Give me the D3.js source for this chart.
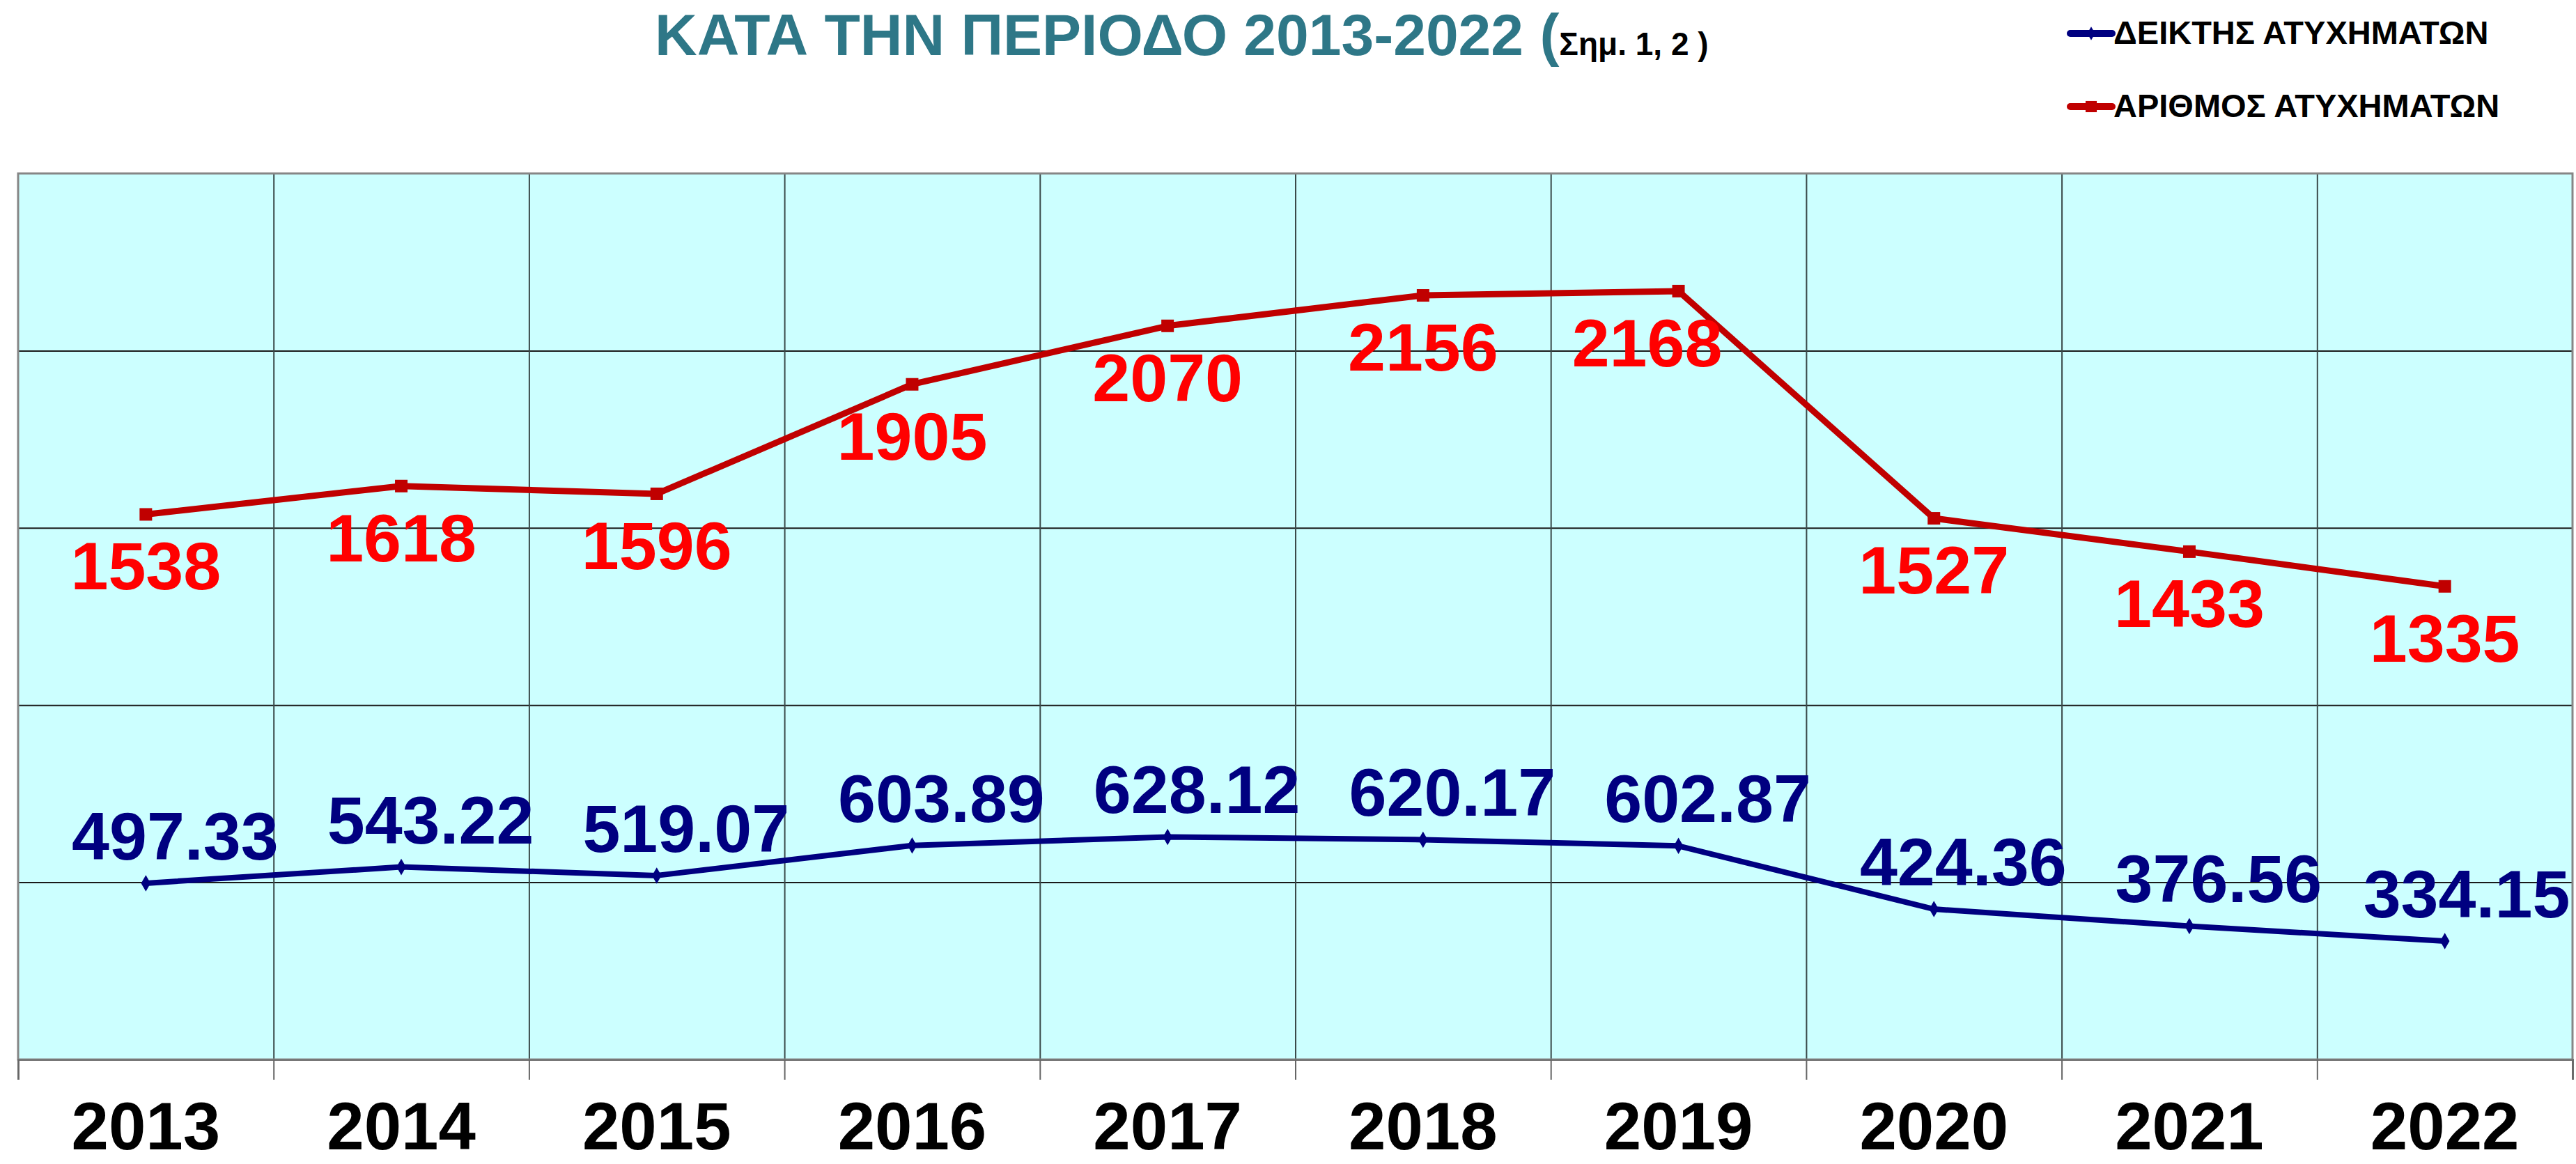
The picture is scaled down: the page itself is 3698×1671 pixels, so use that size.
<!DOCTYPE html>
<html>
<head>
<meta charset="utf-8">
<script src="https://cdn.jsdelivr.net/npm/d3@7"></script>
<style>
  body { margin: 0; background: #fff; }
  text { font-family: "Liberation Sans", Arial, sans-serif; font-weight: bold; }
</style>
</head>
<body>
<svg id="chart" width="3698" height="1671"></svg>
<script>
// data
const years = ["2013", "2014", "2015", "2016", "2017", "2018", "2019", "2020", "2021", "2022"];
const accidentIndex = [497.33, 543.22, 519.07, 603.89, 628.12, 620.17, 602.87, 424.36, 376.56, 334.15];
const accidentCount = [1538, 1618, 1596, 1905, 2070, 2156, 2168, 1527, 1433, 1335];
const gridValues = [500, 1000, 1500, 2000];
const legendNames = ["ΔΕΙΚΤΗΣ ΑΤΥΧΗΜΑΤΩΝ", "ΑΡΙΘΜΟΣ ΑΤΥΧΗΜΑΤΩΝ"];

const W = 3698, H = 1671;
const plot = { left: 26, right: 3693, top: 249, bottom: 1521 };

const svg = d3.select("#chart");

const x = d3.scaleBand().domain(years).range([plot.left, plot.right]).padding(0);
const xEdge = d3.scaleLinear().domain([0, years.length]).range([plot.left, plot.right]);
const y = d3.scaleLinear().domain([0, 2500]).range([plot.bottom, plot.top]);
const cx = (i) => x(years[i]) + x.bandwidth() / 2;

// plot background
svg.append("rect")
  .attr("x", plot.left).attr("y", plot.top)
  .attr("width", plot.right - plot.left).attr("height", plot.bottom - plot.top)
  .attr("fill", "#CCFFFF");

// horizontal grid
svg.append("g")
  .attr("transform", `translate(${plot.left},0)`)
  .call(d3.axisLeft(y).tickValues(gridValues).tickSize(-(plot.right - plot.left)).tickFormat(""))
  .call(g => g.select(".domain").remove())
  .call(g => g.selectAll("line").attr("stroke", "#1a1a1a").attr("stroke-width", 2));

// vertical grid at category edges
svg.append("g")
  .attr("transform", `translate(0,${plot.bottom})`)
  .call(d3.axisTop(xEdge).tickValues(d3.range(1, years.length)).tickSize(plot.bottom - plot.top).tickFormat(""))
  .call(g => g.select(".domain").remove())
  .call(g => g.selectAll("line").attr("stroke", "#3a4a4a").attr("stroke-width", 2));

// frame
svg.append("rect")
  .attr("x", plot.left).attr("y", plot.top)
  .attr("width", plot.right - plot.left).attr("height", plot.bottom - plot.top)
  .attr("fill", "none").attr("stroke", "#868686").attr("stroke-width", 3);

// bottom axis ticks
svg.append("g")
  .attr("transform", `translate(0,${plot.bottom})`)
  .call(d3.axisBottom(xEdge).tickValues(d3.range(0, years.length + 1)).tickSize(29).tickFormat(""))
  .call(g => g.select(".domain").attr("stroke", "#777").attr("stroke-width", 3))
  .call(g => g.selectAll("line").attr("stroke", "#666").attr("stroke-width", 2));

// year labels
svg.append("g")
  .attr("transform", `translate(0,${plot.bottom})`)
  .call(d3.axisBottom(x).tickSize(0))
  .call(g => g.select(".domain").remove())
  .call(g => g.selectAll("text")
    .attr("y", 129).attr("dy", null)
    .attr("font-family", "Liberation Sans, Arial, sans-serif")
    .attr("font-weight", "bold")
    .attr("font-size", 96).attr("fill", "#000"));

const line = d3.line().x((d, i) => cx(i)).y(d => y(d));

// red series: number of accidents
svg.append("path").datum(accidentCount)
  .attr("d", line).attr("fill", "none")
  .attr("stroke", "#C00000").attr("stroke-width", 9).attr("stroke-linejoin", "round");
svg.append("g").selectAll("rect").data(accidentCount).join("rect")
  .attr("x", (d, i) => cx(i) - 9).attr("y", d => y(d) - 9)
  .attr("width", 18).attr("height", 18).attr("fill", "#C00000");

// blue series: accident index
svg.append("path").datum(accidentIndex)
  .attr("d", line).attr("fill", "none")
  .attr("stroke", "#000080").attr("stroke-width", 8).attr("stroke-linejoin", "round");
const diamond = d3.symbol().type(d3.symbolDiamond).size(160);
svg.append("g").selectAll("path").data(accidentIndex).join("path")
  .attr("d", diamond)
  .attr("transform", (d, i) => `translate(${cx(i)},${y(d)})`)
  .attr("fill", "#000080");

// value labels
svg.append("g").selectAll("text").data(accidentCount).join("text")
  .attr("x", (d, i) => cx(i) - (d === d3.max(accidentCount) ? 45 : 0))
  .attr("y", d => y(d) + 108)
  .attr("text-anchor", "middle").attr("font-size", 97).attr("fill", "#FF0000")
  .text(d => d);

svg.append("g").selectAll("text").data(accidentIndex).join("text")
  .attr("x", (d, i) => Math.min(cx(i) + 42, plot.right - 152))
  .attr("y", d => y(d) - 34)
  .attr("text-anchor", "middle").attr("font-size", 97).attr("fill", "#000080")
  .text(d => d.toFixed(2));

// title
const title = svg.append("text").attr("x", 940).attr("y", 79);
title.append("tspan").attr("font-size", 84).attr("fill", "#2E7787").text("ΚΑΤΑ ΤΗΝ ΠΕΡΙΟΔΟ 2013-2022 (");
title.append("tspan").attr("font-size", 46).attr("fill", "#000").text("Σημ. 1, 2 )");

// legend
const legendColors = ["#000080", "#C00000"];
const legend = svg.append("g").selectAll("g").data(legendNames).join("g")
  .attr("transform", (d, i) => `translate(2972,${48 + i * 105})`);
legend.append("line")
  .attr("x1", 0).attr("x2", 60)
  .attr("stroke", (d, i) => legendColors[i]).attr("stroke-width", 10).attr("stroke-linecap", "round");
legend.append("path")
  .attr("d", (d, i) => i === 0 ? d3.symbol().type(d3.symbolDiamond).size(110)() : d3.symbol().type(d3.symbolSquare).size(260)())
  .attr("transform", "translate(30,0)")
  .attr("fill", (d, i) => legendColors[i]);
legend.append("text")
  .attr("x", 62).attr("y", 15)
  .attr("font-size", 47).attr("fill", "#000")
  .text(d => d);
</script>
</body>
</html>
